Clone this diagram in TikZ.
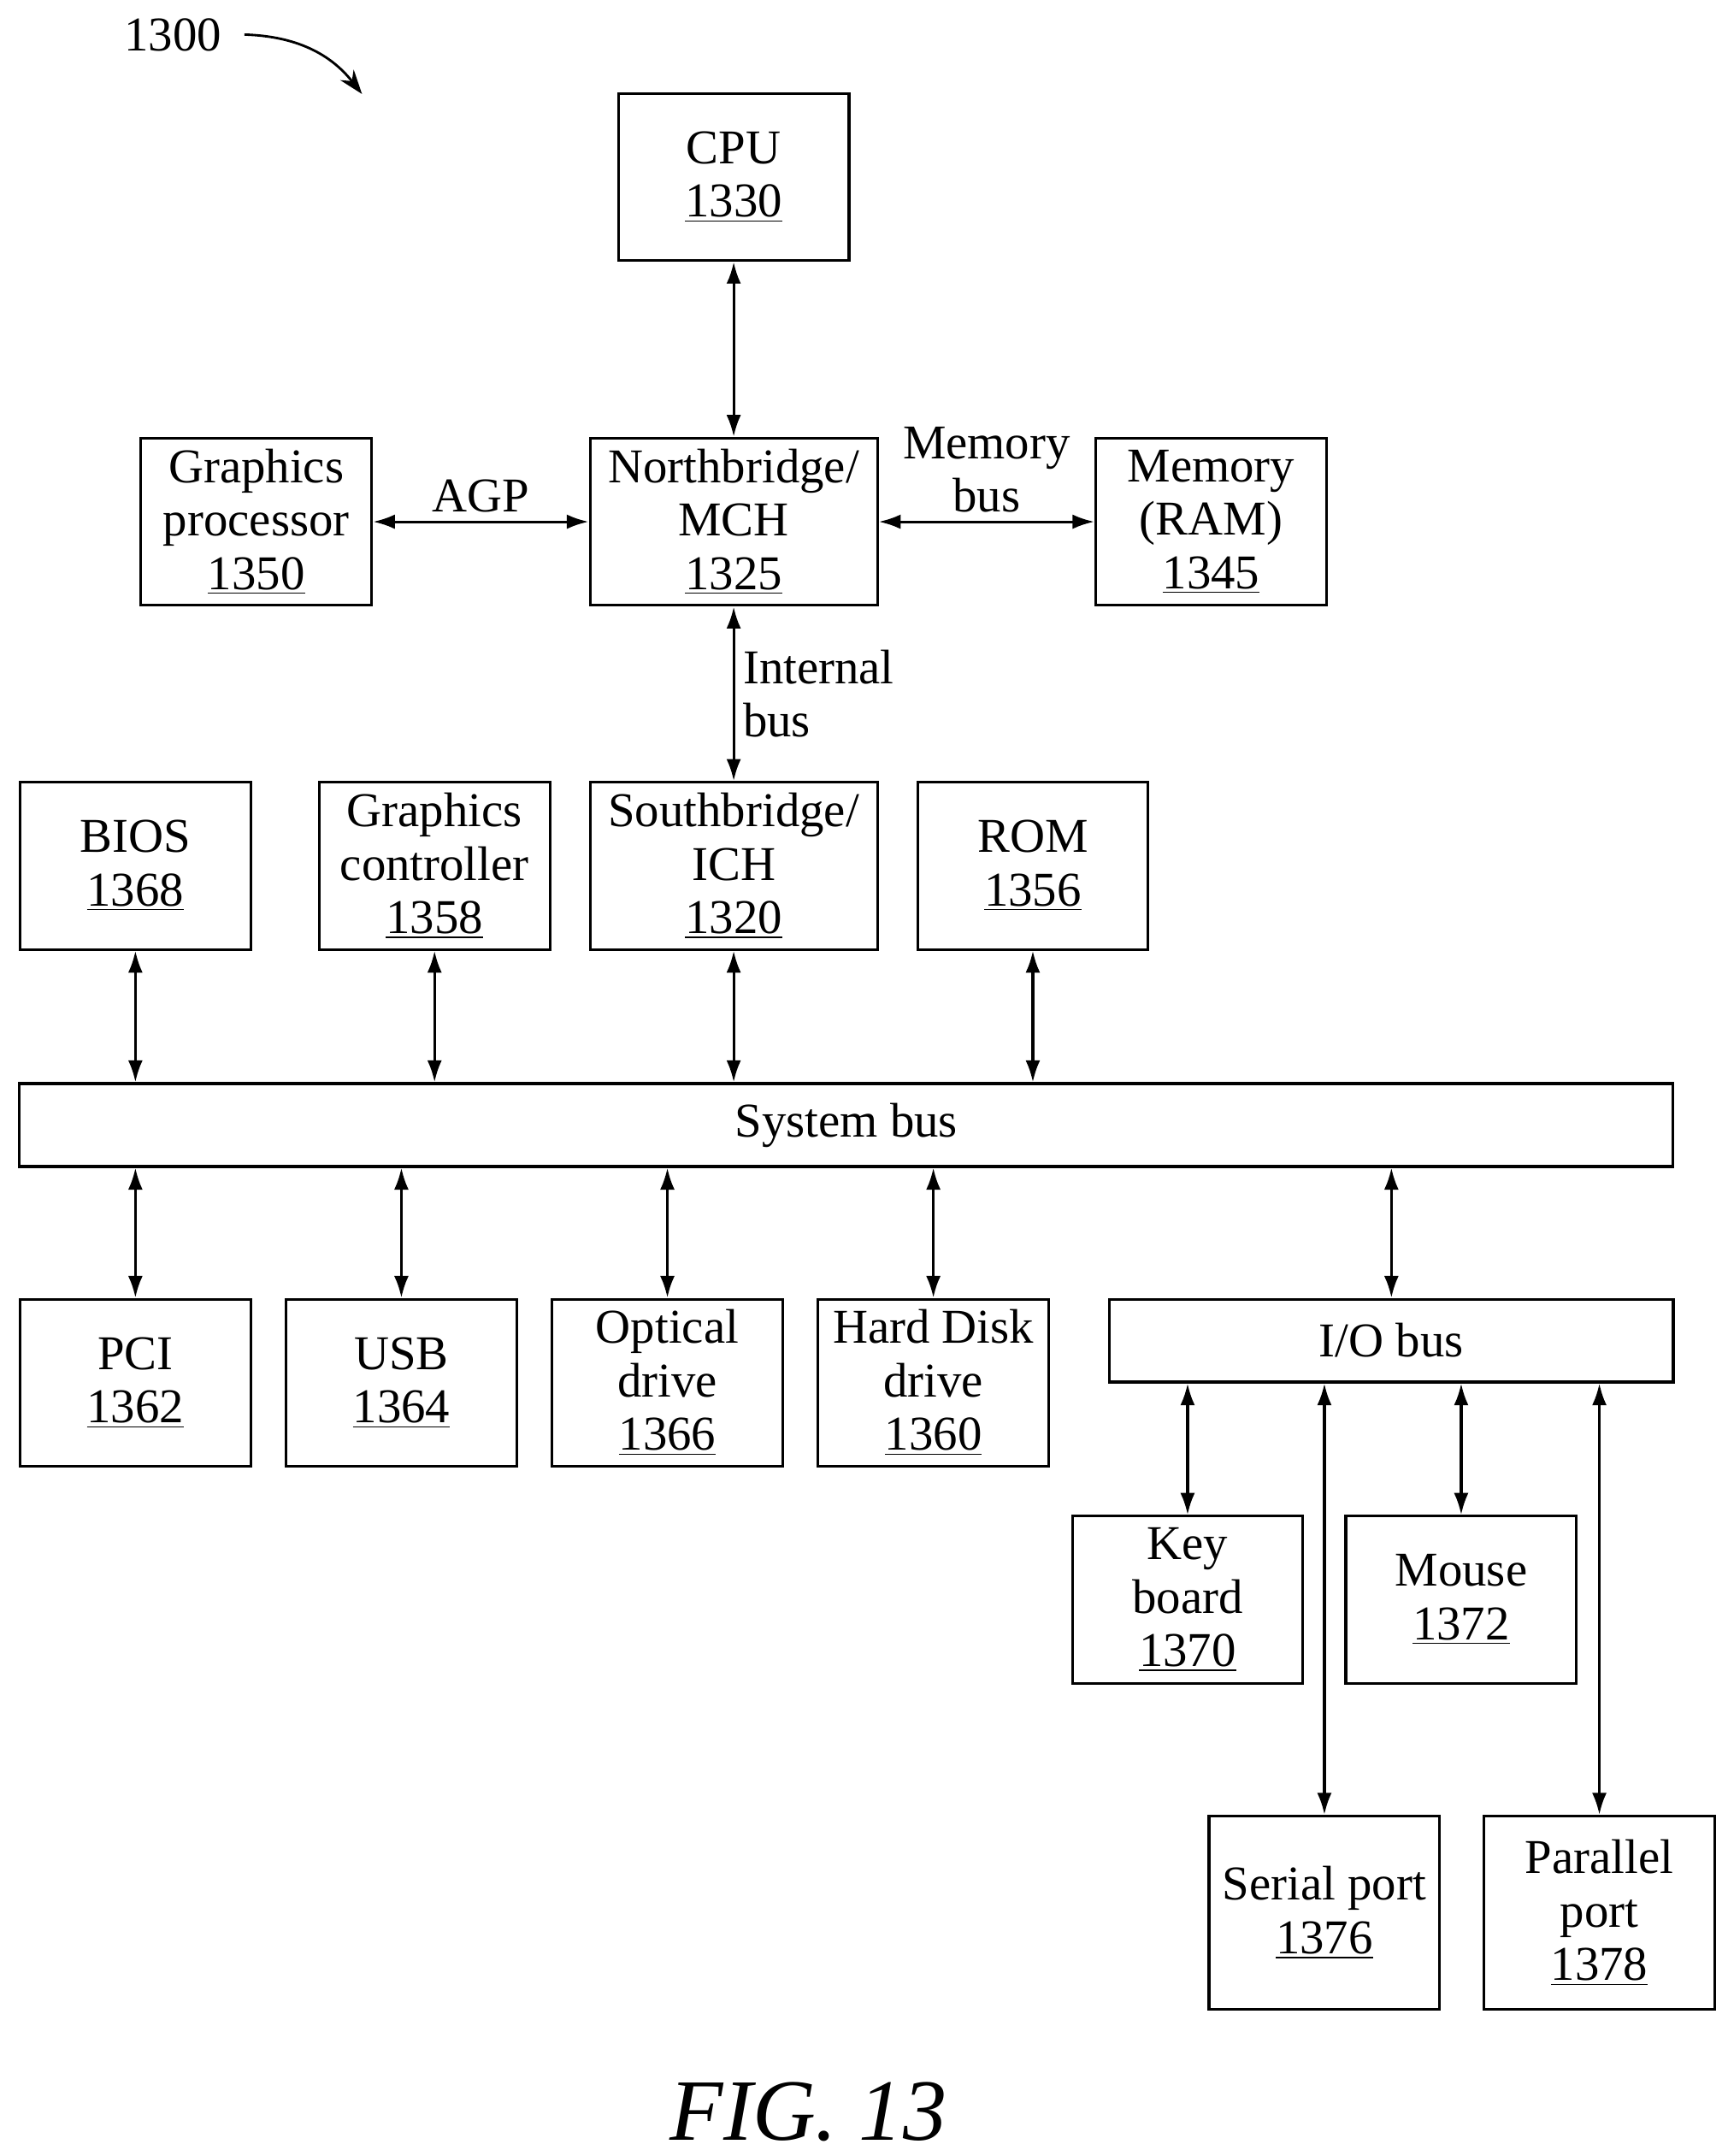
\documentclass[tikz,border=0pt]{standalone}
\usepackage{fontspec}
\setmainfont{Liberation Serif}
\usetikzlibrary{arrows.meta,positioning}
\newcommand{\ul}[1]{\underline{#1}}
\begin{document}
\begin{tikzpicture}[x=0.02cm, y=-0.02cm, font=\fontsize{20}{22}\selectfont,
    box/.style={draw, line width=1.1pt, minimum width=3.34cm, minimum height=2.42cm, align=center, inner sep=0pt},
    wide/.style={box, minimum width=4.16cm},
    bus/.style={draw, line width=1.1pt, minimum height=1.2cm, inner sep=0pt},
    link/.style={{Latex[length=9pt,width=6pt]}-{Latex[length=9pt,width=6pt]}, line width=1.1pt}]
    \useasboundingbox (0,0) rectangle (1250,1560);

    % Top
    \node [box] (cpu) at (531,128) {CPU\\\ul{1330}};
    \node [box] (gproc) at (185.5,377.5) {Graphics\\processor\\\ul{1350}};
    \node [wide] (nb) at (531,377.5) {Northbridge/\\MCH\\\ul{1325}};
    \node [box] (ram) at (876.5,377.5) {Memory\\(RAM)\\\ul{1345}};

    % Middle row
    \node [box] (bios) at (98,626.5) {BIOS\\\ul{1368}};
    \node [box] (gctrl) at (314.5,626.5) {Graphics\\controller\\\ul{1358}};
    \node [wide] (sb) at (531,626.5) {Southbridge/\\ICH\\\ul{1320}};
    \node [box] (rom) at (747.5,626.5) {ROM\\\ul{1356}};

    % Buses
    \node [bus, minimum width=23.94cm] (sysbus) at (612.5,814) {System bus};
    \node [bus, minimum width=8.16cm] (iobus) at (1007,970) {I/O bus};

    % Lower row
    \node [box] (pci) at (98,1000.5) {PCI\\\ul{1362}};
    \node [box] (usb) at (290.5,1000.5) {USB\\\ul{1364}};
    \node [box] (optical) at (483,1000.5) {Optical\\drive\\\ul{1366}};
    \node [box] (hdd) at (675.5,1000.5) {Hard Disk\\drive\\\ul{1360}};
    \node [box] (kbd) at (859.5,1157.5) {Key\\board\\\ul{1370}};
    \node [box] (mouse) at (1057.5,1157.5) {Mouse\\\ul{1372}};
    \node [box, minimum height=2.8cm] (serial) at (958.5,1384) {Serial port\\\ul{1376}};
    \node [box, minimum height=2.8cm] (parallel) at (1157.5,1384) {Parallel\\port\\\ul{1378}};

    % Connections
    \draw [link] (cpu) -- (nb);
    \draw [link] (gproc) -- node [above] {AGP} (nb);
    \draw [link] (nb) -- node [above, align=center] {Memory\\bus} (ram);
    \draw [link] (nb) -- node [right, align=left] {Internal\\bus} (sb);
    \foreach \n in {bios,gctrl,sb,rom}
        \draw [link] (\n.south) -- (\n.south |- sysbus.north);
    \foreach \n in {pci,usb,optical,hdd}
        \draw [link] (\n.north |- sysbus.south) -- (\n.north);
    \draw [link] (sysbus.south -| iobus.north) -- (iobus.north);
    \foreach \n in {kbd,mouse,serial,parallel}
        \draw [link] (\n.north |- iobus.south) -- (\n.north);

    % Label and title
    \node (ref) at (125,25) {1300};
    \draw [-{Stealth[length=10pt,width=7pt]}, line width=1pt] ([xshift=6pt]ref.east) to [bend left=25] (262,68);
    \node (fig) at (585,1528) {\fontsize{36}{40}\selectfont\itshape FIG. 13};
\end{tikzpicture}
\end{document}
